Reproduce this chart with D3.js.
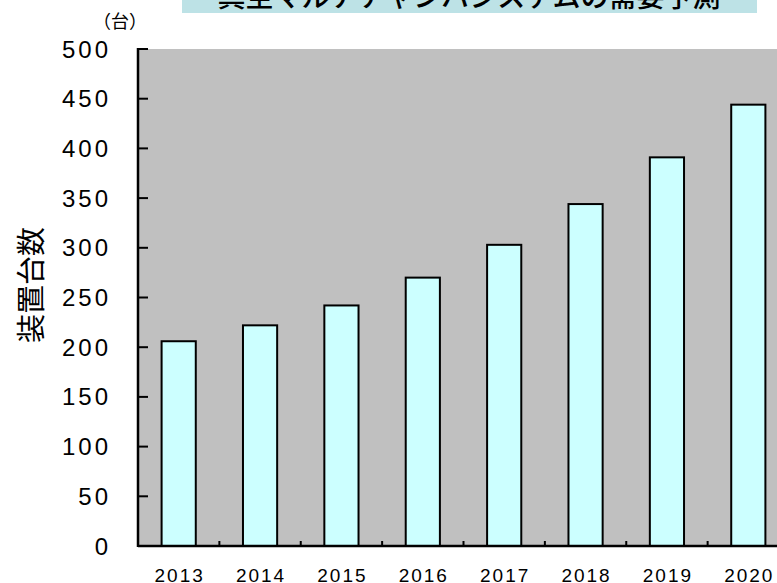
<!DOCTYPE html>
<html>
<head>
<meta charset="utf-8">
<script src="https://cdn.jsdelivr.net/npm/d3@7"></script>
<style>
  body { margin: 0; background: #fff; overflow: hidden; }
  text { font-family: "Liberation Sans", Arial, sans-serif; fill: #000; }
  .cjk { font-family: "Noto Sans CJK JP", sans-serif; }
</style>
</head>
<body>
<div id="chart"></div>
<script>
let years = ['2013', '2014', '2015', '2016', '2017', '2018', '2019', '2020']
let units = [206, 222, 242, 270, 303, 344, 391, 444]
let yTicks = [0, 50, 100, 150, 200, 250, 300, 350, 400, 450, 500]
let titleText = '真空マルチチャンバシステムの需要予測'
let yLabel = '装置台数'
let unitLabel = '（台）'

var width = 777
var height = 583
var plotLeft = 138
var plotTop = 49
var plotBottom = 546

var svg = d3.select('#chart')
  .append('svg')
  .attr('width', width)
  .attr('height', height)

var x = d3.scaleBand()
  .domain(years)
  .range([plotLeft, 789])

var y = d3.scaleLinear()
  .domain([0, 500])
  .range([plotBottom, plotTop])

// title box, mostly cut off at the top
svg.append('rect')
  .attr('x', 182)
  .attr('y', 0)
  .attr('width', 575)
  .attr('height', 13)
  .attr('fill', '#bde2e6')
svg.append('text')
  .attr('class', 'cjk')
  .attr('x', 469)
  .attr('y', 7)
  .attr('text-anchor', 'middle')
  .attr('font-size', 28)
  .attr('font-weight', 500)
  .text(titleText)

// grey plot area
svg.append('rect')
  .attr('x', plotLeft)
  .attr('y', plotTop)
  .attr('width', width - plotLeft)
  .attr('height', plotBottom - plotTop)
  .attr('fill', '#c0c0c0')

// bars
var barW = x.bandwidth() * 0.42
svg.selectAll('rect.bar')
  .data(years)
  .enter()
  .append('rect')
  .attr('class', 'bar')
  .attr('x', function (d) { return x(d) + (x.bandwidth() - barW) / 2 })
  .attr('y', function (d, i) { return y(units[i]) })
  .attr('width', barW)
  .attr('height', function (d, i) { return plotBottom - y(units[i]) })
  .attr('fill', '#ccffff')
  .attr('stroke', '#000')
  .attr('stroke-width', 2)

// y axis: line plus inward ticks
svg.append('line')
  .attr('x1', plotLeft).attr('x2', plotLeft)
  .attr('y1', plotTop - 1).attr('y2', plotBottom + 1)
  .attr('stroke', '#000').attr('stroke-width', 2.5)
svg.selectAll('line.ytick')
  .data(yTicks)
  .enter()
  .append('line')
  .attr('class', 'ytick')
  .attr('x1', plotLeft).attr('x2', plotLeft + 10)
  .attr('y1', function (d) { return y(d) }).attr('y2', function (d) { return y(d) })
  .attr('stroke', '#000').attr('stroke-width', 2)
svg.selectAll('text.ylab')
  .data(yTicks)
  .enter()
  .append('text')
  .attr('class', 'ylab')
  .attr('x', 111)
  .attr('y', function (d) { return y(d) + 8.5 })
  .attr('text-anchor', 'end')
  .attr('font-size', 24)
  .attr('letter-spacing', 3)
  .text(function (d) { return d })

// x axis: baseline plus ticks between categories
svg.append('line')
  .attr('x1', plotLeft).attr('x2', width)
  .attr('y1', plotBottom).attr('y2', plotBottom)
  .attr('stroke', '#000').attr('stroke-width', 2.5)
svg.selectAll('line.xtick')
  .data(years.slice(1))
  .enter()
  .append('line')
  .attr('class', 'xtick')
  .attr('x1', function (d) { return x(d) }).attr('x2', function (d) { return x(d) })
  .attr('y1', plotBottom).attr('y2', plotBottom - 5)
  .attr('stroke', '#000').attr('stroke-width', 2)
svg.selectAll('text.xlab')
  .data(years)
  .enter()
  .append('text')
  .attr('class', 'xlab')
  .attr('x', function (d) { return x(d) + x.bandwidth() / 2 + 1 })
  .attr('y', 582)
  .attr('text-anchor', 'middle')
  .attr('font-size', 19)
  .attr('letter-spacing', 2)
  .text(function (d) { return d })

// axis titles
svg.append('text')
  .attr('class', 'cjk')
  .attr('transform', 'translate(42, 285) rotate(-90)')
  .attr('text-anchor', 'middle')
  .attr('font-size', 29)
  .text(yLabel)
svg.append('text')
  .attr('class', 'cjk')
  .attr('x', 120)
  .attr('y', 28)
  .attr('text-anchor', 'middle')
  .attr('font-size', 18)
  .text(unitLabel)
</script>
</body>
</html>
